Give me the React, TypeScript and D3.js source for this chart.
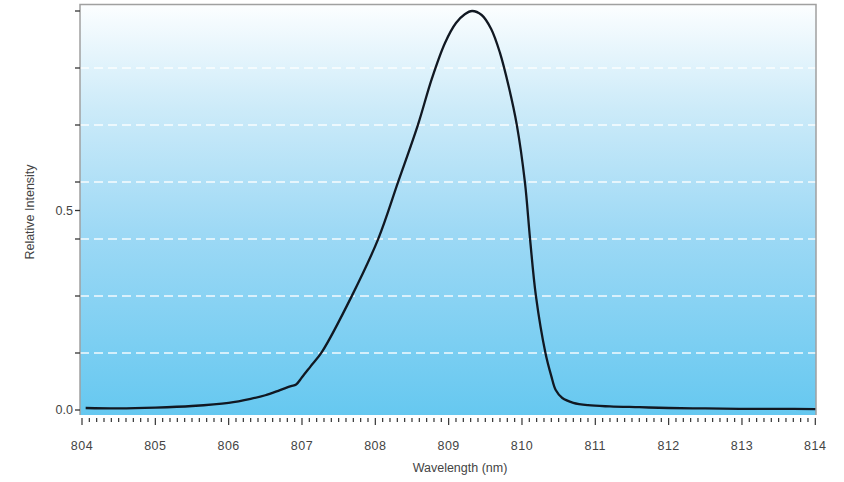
import React from "react";
import * as d3 from "d3";

const wavelengths = [804.05, 804.5, 805, 805.5, 806, 806.3, 806.5, 806.7, 806.85, 806.92, 807.0, 807.12, 807.27, 807.68, 808.04, 808.31, 808.58, 808.77, 808.95, 809.1, 809.22, 809.32, 809.45, 809.58, 809.7, 809.82, 809.93, 810.04, 810.11, 810.19, 810.32, 810.4, 810.46, 810.55, 810.7, 810.9, 811.2, 811.6, 812, 812.5, 813, 813.5, 814];
const intensity = [0.005, 0.004, 0.006, 0.01, 0.018, 0.028, 0.037, 0.05, 0.06, 0.064, 0.082, 0.11, 0.145, 0.286, 0.429, 0.571, 0.714, 0.83, 0.92, 0.97, 0.992, 1.0, 0.99, 0.955, 0.895, 0.81, 0.714, 0.571, 0.429, 0.286, 0.143, 0.085, 0.05, 0.03, 0.018, 0.012, 0.009, 0.007, 0.005, 0.004, 0.003, 0.003, 0.002];
const xTicks = [804, 805, 806, 807, 808, 809, 810, 811, 812, 813, 814];
const yLabelTicks = [0, 0.5];
const yLabels = ["0.0", "0.5"];

export default function App() {
  const W = 844, H = 482;
  const left = 80, right = 816, top = 4.5, bottom = 415;
  const x = d3.scaleLinear().domain([804, 814]).range([82, 815.3]);
  const y = d3.scaleLinear().domain([0, 1]).range([410, 11]);
  const line = d3.line<number>()
    .x((_, i) => x(wavelengths[i]))
    .y((d) => y(d))
    .curve(d3.curveCatmullRom.alpha(0.5));
  const gridVals = d3.range(1, 7).map((k) => k / 7);
  const minor = d3.range(0, 101).map((i) => 804 + i * 0.1);
  const font = "'Liberation Sans', Arial, sans-serif";
  return (
    <svg width={W} height={H} style={{ position: "absolute", left: 0, top: 0 }}>
      <defs>
        <linearGradient id="bg" x1="0" y1="0" x2="0" y2="1">
          <stop offset="0" stopColor="#fcfeff" />
          <stop offset="0.25" stopColor="#cdebf9" />
          <stop offset="0.55" stopColor="#9ed9f5" />
          <stop offset="1" stopColor="#66c8f0" />
        </linearGradient>
      </defs>
      <rect x={left} y={top} width={right - left} height={bottom - top} fill="url(#bg)" />
      {gridVals.map((v, i) => (
        <line key={i} x1={left} x2={right} y1={y(v)} y2={y(v)} stroke="#ffffff" strokeWidth={1.3} strokeDasharray="9,5" opacity={0.9} />
      ))}
      <path d={`M${left},${bottom}V${top}H${right}V${bottom}`} fill="none" stroke="#a0a0a0" strokeWidth={1.5} />
      <path d={line(intensity) || ""} fill="none" stroke="#111822" strokeWidth={2.3} strokeLinejoin="round" />
      {[0, ...gridVals, 0.5, 1].map((v, i) => (
        <line key={i} x1={left - 5} x2={left} y1={y(v)} y2={y(v)} stroke="#333" strokeWidth={1.3} />
      ))}
      {yLabelTicks.map((v, i) => (
        <text key={i} x={left - 7} y={y(v)} dy="0.35em" textAnchor="end" fontFamily={font} fontSize={12.5} fill="#444">{yLabels[i]}</text>
      ))}
      {minor.map((v, i) => {
        const major = i % 10 === 0;
        return <line key={i} x1={x(v)} x2={x(v)} y1={418} y2={major ? 425 : 422} stroke="#333" strokeWidth={1.2} />;
      })}
      {xTicks.map((v) => (
        <text key={v} x={x(v)} y={446} dy="0.35em" textAnchor="middle" fontFamily={font} fontSize={12.5} fill="#444" letterSpacing="0.5">{v}</text>
      ))}
      <text x={460} y={468} dy="0.35em" textAnchor="middle" fontFamily={font} fontSize={12.5} fill="#444">Wavelength (nm)</text>
      <text transform="translate(30,212) rotate(-90)" dy="0.35em" textAnchor="middle" fontFamily={font} fontSize={12.5} fill="#444">Relative Intensity</text>
    </svg>
  );
}
